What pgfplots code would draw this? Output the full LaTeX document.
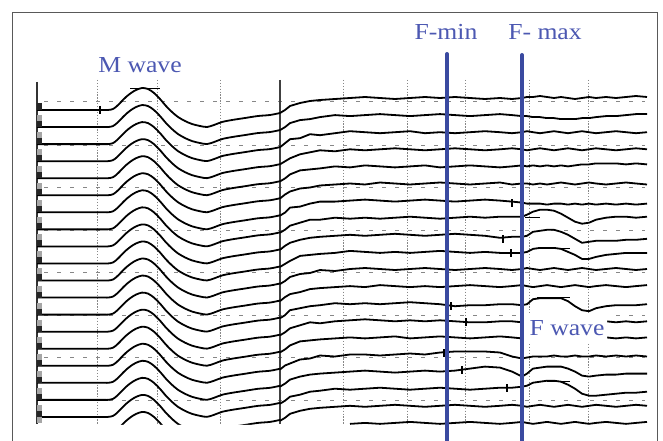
\documentclass[border=0pt]{standalone}
\usepackage{pgfplots}
\pgfplotsset{compat=1.18}
\usepackage{pgfplotstable}
\usepackage{graphicx}
\usepackage{fontspec}
\setmainfont{Liberation Serif}
\definecolor{fblue}{RGB}{58,74,160}
\definecolor{tblue}{RGB}{76,88,178}
\definecolor{gridc}{RGB}{135,135,135}

% M-wave template (offset relative to each trace's baseline, pixels, downward positive)
\pgfplotstableread{
x dy
37 0
100 0
108 0
113 -1
117 -4
121 -8
126 -13
131 -17
136 -20
142 -22
148 -21
154 -17
160 -11
166 -4
172 2
178 7
185 11
192 14
200 16
207 17
214 15
222 12
232 10
245 8
258 6
270 5
280 3
}\mwave

% late part of each trace (offset relative to its late baseline)
\pgfplotstableread{
x r0 r1 r2 r3 r4 r5 r6 r7 r8 r9 r10 r11 r12 r13 r14 r15 r16 r17 r18 r19
280 15 15 15 15 15 15 15 15 15 15 15 15 15 15 15 15 15 15 15 nan
285 12 12 11 12 12 11 12 12 11 12 12 11 12 12 12 11 12 12 12 nan
290 8 8 7 9 8 8 7 8 8 9 8 8 7 8 8 9 8 8 8 nan
300 5 5 6 5 4 5 6 5 5 4 5 6 5 5 4 5 5 6 5 nan
310 3 4 2 3 3 4 3 2 3 3 4 3 3 2 3 4 3 3 3 nan
320 2 2 3 1 2 2 1 2 2 2 1 2 2 3 2 1 2 2 2 nan
335 1 0 1 2 0 1 1 0 1 1 2 1 0 1 1 2 1 0 1 nan
350 0 1 -1 0 1 0 0 1 0 -1 0 0 1 0 0 0 0 1 0 1
365 -1 0 0 1 -1 1 -1 0 1 0 -1 1 0 -1 1 0 -1 0 1 0
380 0 -1 1 0 0 -1 0 1 0 1 0 -1 1 0 0 1 0 -1 0 1
395 1 0 0 -1 1 0 1 0 -1 0 1 0 0 1 -1 0 1 0 -1 0
410 0 1 -1 0 0 1 0 -1 0 1 0 1 -1 0 1 -1 0 1 0 -1
425 -1 0 1 1 -1 0 -1 0 1 0 -1 0 0 1 0 0 -1 0 1 0
440 0 -1 0 0 1 -1 0 1 0 -1 0 1 1 0 -1 -2 0 -1 0 1
455 -1 0 1 -1 0 0 1 0 -1 0 1 0 3 1 0 -3 -1 0 -1 0
470 0 1 0 0 -1 1 0 -1 0 1 0 -1 2 2 1 -3 -3 1 0 -1
485 1 0 -1 1 0 0 -1 0 1 0 -1 0 2 2 0 -3 -5 0 1 0
500 0 -1 0 0 1 -1 0 -1 3 1 0 1 1 1 -1 -2 -4 -1 0 1
512 1 0 1 -1 0 1 1 -1 2 1 1 0 1 1 0 2 0 -1 -1 0
522 0 1 0 0 -1 0 2 -1 2 1 0 -1 2 2 1 4 5 -2 0 -1
527 -1 1 -1 1 0 0 3 -3 1 0 -1 0 1 1 0 3 2 -3 1 0
533 -1 2 0 0 -1 1 3 -6 -3 -3 0 1 -4 1 1 2 -3 -6 0 1
540 -2 2 1 -1 0 0 3 -8 -4 -4 1 0 -5 1 0 2 -4 -7 -1 0
547 -1 3 0 0 -1 1 4 -8 -5 -4 0 -1 -5 1 1 2 -5 -8 0 -1
554 0 3 -1 1 0 0 3 -7 -5 -4 -1 0 -5 1 0 1 -5 -8 1 0
561 -1 4 0 0 -1 -1 3 -4 -3 -3 0 1 -5 1 1 2 -5 -7 0 1
568 0 4 1 -1 0 0 4 0 0 0 1 0 -2 1 0 2 -3 -4 -1 0
575 1 4 0 0 -1 1 3 4 4 3 0 -1 3 1 1 1 0 0 0 -1
582 0 3 -1 1 -2 0 4 6 8 7 -1 0 7 1 0 2 4 5 1 0
589 -1 3 0 0 -2 -1 3 5 7 7 0 1 8 1 0 2 5 7 0 1
596 0 2 1 -1 -3 0 4 2 6 5 1 0 5 2 1 1 4 7 -1 0
606 -1 1 0 0 -3 1 3 0 6 3 0 -1 3 1 0 2 3 6 0 -1
616 0 1 -1 1 -3 0 4 -1 6 2 -1 0 2 2 1 1 3 5 1 0
626 -1 0 0 0 -2 -1 3 -1 5 1 0 1 2 1 0 2 2 4 0 1
636 -2 -1 1 -1 -3 0 4 0 5 1 1 0 2 2 1 1 2 4 -1 0
647 -1 -1 0 0 -2 1 3 -1 4 1 0 -1 1 1 0 2 2 3 0 -1
}\latepart

\begin{document}
\begin{tikzpicture}
\begin{axis}[
  width=663bp, height=441bp, scale only axis,
  xmin=0, xmax=663, ymin=0, ymax=441, y dir=reverse,
  hide axis, clip=true,
  unbounded coords=jump,
  trc/.style={black, line width=1.8bp, line join=round, mark=none},
]
% background
\addplot[fill=white, draw=none] coordinates {(0,0) (663,0) (663,441) (0,441) (0,0)};

% dotted vertical grid
\pgfplotsinvokeforeach{97,157,220,343,407,465,529,588}{
  \addplot[gridc, line width=1bp, dash pattern=on 1.3bp off 1.6bp] coordinates {(#1,80) (#1,424)};
}
% dashed horizontal grid
\pgfplotsinvokeforeach{102,145,187,230,272,315,357,400}{
  \addplot[gridc, line width=1bp, dash pattern=on 4bp off 9bp] coordinates {(44,#1) (645,#1)};
}

% vertical bars
\addplot[black!80, line width=2bp] coordinates {(36.5,82) (36.5,424)};
\addplot[black!75, line width=2.5bp] coordinates {(280,80) (280,424)};

% left channel blocks (dark, just above each baseline)
\addplot[only marks, mark=|, mark size=3.5bp, mark options={line width=5bp, black!85}] coordinates {
(39.5,106.5) (39.5,123.55) (39.5,140.6) (39.5,157.65) (39.5,174.7) (39.5,191.75) (39.5,208.8) (39.5,225.85) (39.5,242.9) (39.5,259.95)
(39.5,277) (39.5,294.05) (39.5,311.1) (39.5,328.15) (39.5,345.2) (39.5,362.25) (39.5,379.3) (39.5,396.35) (39.5,413.4)};
% left channel blocks (light, between baselines)
\addplot[only marks, mark=|, mark size=3bp, mark options={line width=5bp, black!35}] coordinates {
(39.5,118) (39.5,135.05) (39.5,152.1) (39.5,169.15) (39.5,186.2) (39.5,203.25) (39.5,220.3) (39.5,237.35) (39.5,254.4) (39.5,271.45)
(39.5,288.5) (39.5,305.55) (39.5,322.6) (39.5,339.65) (39.5,356.7) (39.5,373.75) (39.5,390.8) (39.5,407.85) (39.5,420)};

% early part (M waves)
\pgfplotsinvokeforeach{0,...,19}{
  \addplot[trc, smooth, tension=0.5] table[x=x, y expr=\thisrow{dy}+110+17.05*#1] {\mwave};
}
% late part (F waves)
\pgfplotsinvokeforeach{0,...,19}{
  \addplot[trc] table[x=x, y expr=\thisrow{r#1}+98+17.1*#1] {\latepart};
}

% cursors
\addplot[black, line width=1.5bp] coordinates {(100,106) (100,114)};
\addplot[black, line width=0.8bp] coordinates {(130,88) (160,88)};
\addplot[black, line width=0.8bp] coordinates {(525,217) (540,217)};
\addplot[black, line width=0.8bp] coordinates {(537,248) (570,248)};
\addplot[black, line width=0.8bp] coordinates {(537,297) (570,297)};
\addplot[black, line width=0.8bp] coordinates {(547,381) (570,381)};
\addplot[only marks, mark=|, mark size=4bp, mark options={line width=2.6bp, black}] coordinates {
(512,203) (503,239) (511,253) (451,306) (466,322) (444,353) (462,370) (507,388)};

% mask below the traces
\addplot[fill=white, draw=none] coordinates {(14,424.8) (656,424.8) (656,442) (14,442) (14,424.8)};
% white box behind label
\addplot[fill=white, draw=none] coordinates {(523,313) (607,313) (607,342) (523,342) (523,313)};

% F-min / F-max lines
\addplot[fblue, line width=4bp, line cap=round] coordinates {(447,54) (447,445)};
\addplot[fblue, line width=4bp, line cap=round] coordinates {(522,55) (522,445)};

% frame
\addplot[black!65, line width=1bp] coordinates {(12.5,445) (12.5,12.5) (657.5,12.5) (657.5,445)};

% labels
\node[tblue, anchor=base, inner sep=0pt, font=\fontsize{23}{23}\selectfont] at (axis cs:140,73) {\scalebox{1.12}[1]{M wave}};
\node[tblue, anchor=base, inner sep=0pt, font=\fontsize{23}{23}\selectfont] at (axis cs:446,40) {\scalebox{1.12}[1]{F-min}};
\node[tblue, anchor=base, inner sep=0pt, font=\fontsize{23}{23}\selectfont] at (axis cs:545,40) {\scalebox{1.12}[1]{F- max}};
\node[tblue, anchor=base, inner sep=0pt, font=\fontsize{23}{23}\selectfont] at (axis cs:567,335) {\scalebox{1.12}[1]{F wave}};
\end{axis}
\end{tikzpicture}
\end{document}
